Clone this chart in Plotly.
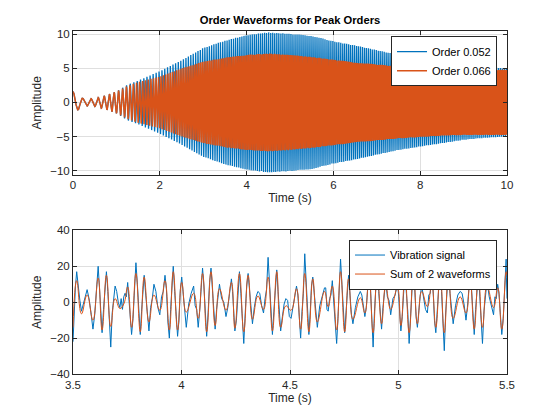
import numpy as np
import plotly.graph_objects as go

# ---------------- Top panel: order waveform envelopes / frequencies
env_t = [0, 0.25, 0.5, 0.75, 1.0, 1.25, 1.5, 2.0, 2.5, 3.0, 3.5, 4.0, 4.5, 5.0,
         5.5, 6.0, 6.5, 7.0, 7.5, 8.0, 8.5, 9.0, 9.5, 10.0]
order052_env = [1.6, 0.5, 0.6, 1.0, 1.6, 2.6, 3.2, 4.6, 6.2, 8.0, 9.1, 9.9, 10.3, 10.1,
                9.8, 9.0, 8.4, 7.7, 7.0, 6.5, 6.0, 5.5, 5.2, 5.0]
order066_env = [1.6, 0.5, 0.6, 1.0, 1.6, 2.4, 3.0, 3.8, 5.0, 6.0, 6.6, 7.0, 7.2, 7.0,
                6.7, 6.3, 5.9, 5.6, 5.3, 5.1, 4.9, 4.8, 4.8, 4.8]
freq_t = [0, 0.5, 1, 1.5, 2, 2.5, 3, 4, 5, 6, 7, 8, 9, 10]
order052_freq = [4, 6, 10, 13, 15, 17, 19, 21, 21.5, 22, 22, 22, 22, 22]
order066_freq = [4, 6, 10, 14, 18, 21, 24, 26.5, 27, 27.5, 28, 28, 28, 28]

# ---------------- Bottom panel: extrema of the waveform sum and the vibration signal
sum_t = [3.500, 3.517, 3.539, 3.565, 3.592, 3.616, 3.634, 3.654, 3.674, 3.694,
         3.716, 3.734, 3.752, 3.770, 3.790, 3.810, 3.828, 3.850, 3.873, 3.900,
         3.924, 3.944, 3.962, 3.982, 4.001, 4.022, 4.056, 4.077, 4.097, 4.116,
         4.136, 4.155, 4.175, 4.205, 4.230, 4.246, 4.267, 4.287, 4.307, 4.327,
         4.352, 4.378, 4.399, 4.419, 4.439, 4.457, 4.481, 4.505, 4.530, 4.549,
         4.568, 4.587, 4.605, 4.626, 4.659, 4.676, 4.695, 4.715, 4.733, 4.752,
         4.770, 4.790, 4.824, 4.845, 4.864, 4.883, 4.902, 4.922, 4.941, 4.964,
         4.995, 5.011, 5.030, 5.049, 5.069, 5.087, 5.107, 5.133, 5.153, 5.172,
         5.192, 5.211, 5.230, 5.252, 5.284, 5.311, 5.330, 5.349, 5.368, 5.387,
         5.408, 5.438, 5.457, 5.476, 5.496, 5.500]
sum_v = [-14, 12, -6.5, 4, -10, 13.5, -15.5, 15, -13.5, 2,
         -3.5, -1, 8.5, -14, 16, -16.5, 14, -11, 4, -4.5,
         12, -15.5, 17, -15.5, 11, -5.5, 5, -9, 16, -16.5,
         17, -13, 7.5, -4.5, 11, -14.5, 16, -16.5, 15, -9.5,
         3.5, -4, 14, -16, 17, -14, -2, -4.5, 7.5, -15,
         16, -16.5, 13, -11, 6, -2.5, 9, -15.5, 17, -16.5,
         13, -9.5, 2.5, -6, 15, -17, 16.5, -12, 9, -4,
         8, -13, 15, -17, 17, -12, 6, -2.5, 10, -14,
         17, -17, 14, -9, 3, -6, 12, -15, 15, -14,
         9, -3, 8, -15, 17, 15]
vib_ext = [-22, 17, -5, 7, -15, 20, -17, 17, -25, 9,
           -3, 3, 11, -18, 22, -18, 15, -16, 10, -7,
           15, -20, 20, -19, 14, -14, 9, -14, 19, -19,
           19, -15, 10, -8, 13, -16, 17, -23, 16, -12,
           6, -6, 25, -18, 18, -16, 2, -9, 9, -20,
           27, -18, 14, -14, 8, -5, 12, -23, 24, -17,
           15, -12, 6, -8, 17, -25, 21, -15, 12, -7,
           11, -16, 18, -23, 22, -14, 9, -6, 14, -17,
           20, -27, 18, -12, 6, -10, 16, -18, 16, -23,
           12, -7, 10, -18, 24, 2]
vib_m1 = [-5, 8, 0, 2, -7, 8, -4, 6, -6, 6,
          2, 5, 1, -9, 10, -5, 4, -3, 6, 3,
          7, -4, 6, -10, 4, -1, -2, -5, 9, -6,
          7, -4, 2, -3, 6, -10, 5, -6, 6, -3,
          5, 2, 9, -5, 6, -8, 1, -3, 4, -5,
          11, -6, 5, -2, 8, 2, 0, -9, 10, -6,
          4, -3, 4, -3, 9, -5, 6, -3, 3, 2,
          4, -8, 5, -6, 7, -4, 1, 4, 7, -4,
          6, -6, 5, -2, 5, -3, 8, -4, 4, -5,
          3, 3, 5, -9, 14]
vib_m2 = [9, 1, 3, -6, 10, -6, 5, -10, 3, 0,
          -4, 3, -10, 6, -5, 8, -6, 2, -3, 6,
          -11, 7, -9, 7, -8, 5, -4, 7, -6, 11,
          -9, 4, 0, 5, -6, 5, -11, 9, -6, 3,
          -2, 7, -5, 10, -9, -1, -8, 2, -12, 5,
          -6, 9, -8, 3, -4, 4, -12, 6, -4, 8,
          -7, 3, -2, 6, -6, 10, -7, 7, 1, 4,
          -10, 5, -5, 11, -8, 4, -4, 5, -10, 6,
          -11, 9, -6, 4, -1, 5, -6, 9, -9, 6,
          -2, 2, -7, 6, 6]

top_xticks = [0, 2, 4, 6, 8, 10]
top_yticks = [-10, -5, 0, 5, 10]
bot_xticks = [3.5, 4, 4.5, 5, 5.5]
bot_yticks = [-40, -20, 0, 20, 40]

BLUE = "#0072BD"
ORANGE = "#D95319"
AX = "#262626"
GRID = "#DFDFDF"
FONT = "Liberation Sans, Arial, Helvetica, sans-serif"

# top waveforms: carrier from read frequencies, amplitude from read envelopes
dt = 0.002
t_top = np.arange(0, 10 + dt / 2, dt)


def order_wave(env_vals, f_vals):
    env = np.interp(t_top, env_t, env_vals)
    f = np.interp(t_top, freq_t, f_vals)
    phase = 2 * np.pi * np.cumsum(f) * dt
    return env * np.cos(phase - phase[0])


y052 = order_wave(order052_env, order052_freq)
y066 = order_wave(order066_env, order066_freq)

# vibration signal: extrema plus two read points within every interval
vib_t, vib_v = [], []
for i in range(len(sum_t) - 1):
    a, b = sum_t[i], sum_t[i + 1]
    vib_t += [a, a + (b - a) / 3, a + 2 * (b - a) / 3]
    vib_v += [vib_ext[i], vib_m1[i], vib_m2[i]]
vib_t.append(sum_t[-1])
vib_v.append(vib_ext[-1])

fig = go.Figure()
fig.add_trace(go.Scatter(x=t_top, y=y052, mode="lines", name="Order 0.052",
                         line=dict(color=BLUE, width=1.3), xaxis="x", yaxis="y",
                         legend="legend"))
fig.add_trace(go.Scatter(x=t_top, y=y066, mode="lines", name="Order 0.066",
                         line=dict(color=ORANGE, width=1.5), xaxis="x", yaxis="y",
                         legend="legend"))
fig.add_trace(go.Scatter(x=vib_t, y=vib_v, mode="lines", name="Vibration signal",
                         line=dict(color=BLUE, width=1), xaxis="x2", yaxis="y2",
                         legend="legend2"))
fig.add_trace(go.Scatter(x=sum_t, y=sum_v, mode="lines", name="Sum of 2 waveforms",
                         line=dict(color=ORANGE, width=1, shape="spline", smoothing=1.3),
                         xaxis="x2", yaxis="y2", legend="legend2"))

axis_common = dict(showline=True, linecolor=AX, linewidth=1, mirror="ticks",
                   ticks="inside", ticklen=4, tickcolor=AX, showgrid=True,
                   gridcolor=GRID, gridwidth=1, zeroline=False, automargin=False,
                   tickfont=dict(family=FONT, size=11.5, color=AX),
                   title_font=dict(family=FONT, size=12, color=AX))

fig.update_layout(
    width=560, height=420,
    margin=dict(l=73, r=53, t=31, b=46, autoexpand=False),
    paper_bgcolor="white", plot_bgcolor="white",
    font=dict(family=FONT, size=11, color=AX),
    title=dict(text="<b>Order Waveforms for Peak Orders</b>", x=0.5, xref="paper",
               xanchor="center", y=1 - 20 / 420, yanchor="middle",
               font=dict(family=FONT, size=11.2, color="#000000")),
    xaxis=dict(domain=[0, 1], anchor="y", range=[0, 10], tickvals=top_xticks,
               title=dict(text="Time (s)", standoff=3), **axis_common),
    yaxis=dict(domain=[0.5814, 1], anchor="x", range=[-10.6, 10.5],
               tickvals=top_yticks, title=dict(text="Amplitude", standoff=5),
               **axis_common),
    xaxis2=dict(domain=[0, 1], anchor="y2", range=[3.5, 5.5], tickvals=bot_xticks,
                ticktext=["3.5", "4", "4.5", "5", "5.5"],
                title=dict(text="Time (s)", standoff=3), **axis_common),
    yaxis2=dict(domain=[0, 0.4186], anchor="x2", range=[-40, 40],
                tickvals=bot_yticks, title=dict(text="Amplitude", standoff=5),
                **axis_common),
    legend=dict(x=0.977, y=0.985, xanchor="right", yanchor="top",
                bgcolor="white", bordercolor=AX, borderwidth=1,
                font=dict(family=FONT, size=11, color="#000000"),
                tracegroupgap=0, itemwidth=30),
    legend2=dict(x=0.977, y=0.392, xanchor="right", yanchor="top",
                 bgcolor="white", bordercolor=AX, borderwidth=1,
                 font=dict(family=FONT, size=11, color="#000000"),
                 tracegroupgap=0, itemwidth=30),
    showlegend=True,
)

fig.write_html("out.html", config={"displayModeBar": False},
               post_script="document.body.style.margin='0';"
                           "document.body.style.overflow='hidden';")
